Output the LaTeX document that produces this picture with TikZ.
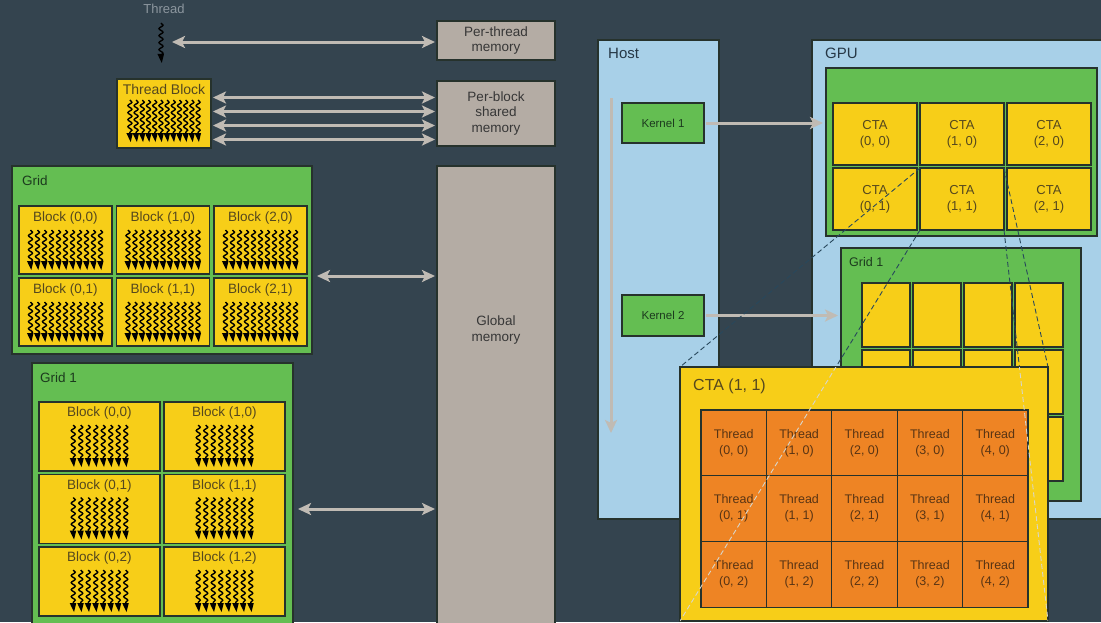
\documentclass[tikz,border=0pt]{standalone}
\usepackage{fontspec}
\setmainfont{Liberation Sans}
\usetikzlibrary{positioning,calc,arrows.meta,decorations.pathmorphing}
\tikzset{>={Stealth[length=13pt,width=12pt,inset=3pt]}}
\definecolor{mybg}{RGB}{52,68,79}
\definecolor{myyellow}{RGB}{247,206,24}
\definecolor{mygreen}{RGB}{100,190,82}
\definecolor{myblue}{RGB}{168,208,232}
\definecolor{mygray}{RGB}{180,172,164}
\definecolor{myorange}{RGB}{238,132,36}
\definecolor{myarrow}{RGB}{192,187,180}
\definecolor{myedge}{RGB}{38,50,44}
\definecolor{mydash}{RGB}{40,72,92}
\definecolor{mylight}{RGB}{215,214,204}
\definecolor{yeltext}{RGB}{85,72,30}
\definecolor{grntext}{RGB}{28,58,30}
\definecolor{memtext}{RGB}{55,55,55}
\definecolor{bluetext}{RGB}{38,56,70}
\definecolor{thrtext}{RGB}{88,52,20}
\definecolor{thrlabel}{RGB}{140,150,158}

\tikzset{
  box/.style={draw=myedge,line width=1.2pt,inner sep=0pt,outer sep=0pt,
    anchor=north west,align=center},
  wh/.style 2 args={minimum width=#1pt,minimum height=#2pt},
  membox/.style={box,fill=mygray,text=memtext,font=\fontsize{13.5}{15.5}\selectfont},
  blockbox/.style={box,fill=myyellow,text=yeltext,font=\fontsize{13}{16}\selectfont},
  gridbox/.style={box,fill=mygreen,text=grntext,font=\fontsize{11.5}{14}\selectfont},
  hostbox/.style={box,fill=myblue},
  threadbox/.style={box,fill=myorange,text=thrtext,font=\fontsize{12.5}{16}\selectfont},
  tag/.style={inner sep=0pt,font=\fontsize{13.5}{15.5}\selectfont},
  link/.style={<->,draw=myarrow,line width=3pt,shorten <=2pt,shorten >=2pt},
  send/.style={->,draw=myarrow,line width=3pt,shorten <=2pt,shorten >=3pt},
  zoomline/.style={dash pattern=on 5pt off 3pt,line width=0.9pt},
  pics/threads/.style n args={3}{code={
    \foreach \i in {1,...,#1}{
      \pgfmathsetmacro\tx{(\i-(#1+1)/2)*#2}
      \draw[black,line width=1.4pt,decorate,
        decoration={snake,amplitude=2pt,segment length=7pt}]
        (\tx,-#3) -- (\tx,-7);
      \fill[black] (\tx-3.6,-9) -- (\tx+3,-9) -- (\tx+0.8,0) -- cycle;
    }
  }}
}

\begin{document}
\begin{tikzpicture}[x=1pt,y=-1pt]

  \useasboundingbox (0,0) rectangle (1101,622);
  \clip (0,0) rectangle (1101,622);
  \fill[mybg] (0,0) rectangle (1101,622);

  % memories
  \node[membox,wh={118}{39}] (ptm) at (437,21) {Per-thread\\memory};
  \node[membox,wh={118}{65}] (psm) at (437,81) {Per-block\\shared\\memory};
  \node[membox,wh={118}{470}] (gm) at (437,166) {};
  \node[tag,text=memtext,align=center,font=\fontsize{13.5}{16}\selectfont,
    below=150pt of gm.north] (gmlbl) {Global\\memory};

  % single thread
  \node[tag,text=thrlabel,font=\fontsize{13}{15}\selectfont] (thrlbl) at (164,9) {Thread};
  \pic at ($(thrlbl.south)+(-3,49)$) {threads={1}{0}{40}};
  \coordinate (thr) at (170,42);
  \draw[link] (thr) -- (thr -| ptm.west);

  % thread block
  \node[blockbox,wh={94}{69}] (tb) at (117,79) {};
  \node[tag,text=yeltext,font=\fontsize{14}{16}\selectfont,
    below=5pt of tb.north] (tblbl) {Thread Block};
  \pic at ($(tb.south)+(0,-6)$) {threads={12}{6.2}{42}};
  \foreach \dy in {-16,-2,12,26}
    \draw[link] ($(tb.east)+(0,\dy)$) -- ($(psm.west)+(0,\dy)$);

  % grid
  \node[gridbox,wh={300}{188}] (grid) at (12,166) {};
  \node[tag,text=grntext,below right=10pt and 10pt of grid.north west] (gridlbl) {Grid};
  \foreach \c in {0,1,2}
    \foreach \r in {0,1}{
      \node[blockbox,wh={93}{68}] (b\c\r) at (19+97.5*\c,206+72*\r) {};
      \node[tag,text=yeltext,below=6pt of b\c\r.north] (bl\c\r) {Block (\c,\r)};
      \pic at ($(b\c\r.south)+(0,-4)$) {threads={11}{7}{40}};
    }
  \coordinate (g0) at ($(grid.east)+(3,16)$);
  \draw[link] (g0) -- (g0 -| gm.west);

  % grid 1
  \node[gridbox,wh={261}{264}] (gridA) at (32,363) {};
  \node[tag,text=grntext,below right=10pt and 8pt of gridA.north west] (gridAlbl) {Grid 1};
  \foreach \c in {0,1}
    \foreach \r in {0,1,2}{
      \node[blockbox,wh={121}{69}] (a\c\r) at (39+125*\c,402+72.5*\r) {};
      \node[tag,text=yeltext,below=5pt of a\c\r.north] (al\c\r) {Block (\c,\r)};
      \pic at ($(a\c\r.south)+(0,-4)$) {threads={8}{7.5}{42}};
    }
  \coordinate (g1) at ($(gridA.north east)+(3,146)$);
  \draw[link] (g1) -- (g1 -| gm.west);

  % host
  \node[hostbox,wh={121}{479}] (host) at (598,40) {};
  \node[tag,text=bluetext,font=\fontsize{15}{17}\selectfont,
    below right=8pt and 10pt of host.north west] (hostlbl) {Host};
  \coordinate (tl0) at ($(host.north west)+(13,56)$);
  \coordinate (tl1) at ($(host.north west)+(13,396)$);
  \draw[send] (tl0) -- (tl1);
  \node[gridbox,wh={82}{40}] (k1) at (622,103) {Kernel 1};
  \node[gridbox,wh={82}{41}] (k2) at (622,295) {Kernel 2};

  % gpu
  \node[hostbox,wh={300}{479}] (gpu) at (812,40) {};
  \node[tag,text=bluetext,font=\fontsize{15}{17}\selectfont,
    below right=8pt and 13pt of gpu.north west] (gpulbl) {GPU};
  \node[gridbox,wh={271}{168}] (gpuin) at (826,68) {};
  \foreach \c in {0,1,2}
    \foreach \r in {0,1}
      \node[blockbox,wh={84}{62}] (c\c\r) at (833+87*\c,103+65*\r) {CTA\\(\c, \r)};
  \node[gridbox,wh={240}{253}] (gridB) at (841,248) {};
  \node[tag,text=grntext,font=\fontsize{12.5}{14}\selectfont,
    below right=9pt and 8pt of gridB.north west] (gridBlbl) {Grid 1};
  \foreach \c in {0,...,3}
    \foreach \r in {0,1,2}
      \node[blockbox,wh={48}{64}] (s\c\r) at (862+51*\c,283+67*\r) {};

  % kernel launches
  \draw[send] (k1.east) -- (k1.east -| gpuin.west);
  \draw[send] (k2.east) -- (k2.east -| gridB.west);

  % zoom of CTA (1, 1)
  \coordinate (bignw) at (680,367);
  \coordinate (bigse) at (1048,621);
  \draw[zoomline,draw=mydash] (c11.north west) -- (bignw);
  \draw[zoomline,draw=mydash] (c11.south west) -- (bignw |- bigse);
  \draw[zoomline,draw=mydash] (c11.north east) -- (bigse |- bignw);
  \draw[zoomline,draw=mydash] (c11.south east) -- (bigse);

  \node[blockbox,wh={368}{254}] (big) at (bignw) {};
  \node[tag,text=yeltext,font=\fontsize{16}{18}\selectfont,
    below right=12pt and 13pt of big.north west] (biglbl) {CTA (1, 1)};
  \foreach \c in {0,...,4}
    \foreach \r in {0,1,2}
      \node[threadbox,wh={65.4}{65.7}] (t\c\r) at (701+65.4*\c,410+65.7*\r) {Thread\\(\c, \r)};

  \begin{scope}
    \clip (big.north west) rectangle (big.south east);
    \foreach \a in {south west,south east}
      \draw[zoomline,draw=mylight] (c11.\a) -- (big.\a);
  \end{scope}

\end{tikzpicture}
\end{document}
